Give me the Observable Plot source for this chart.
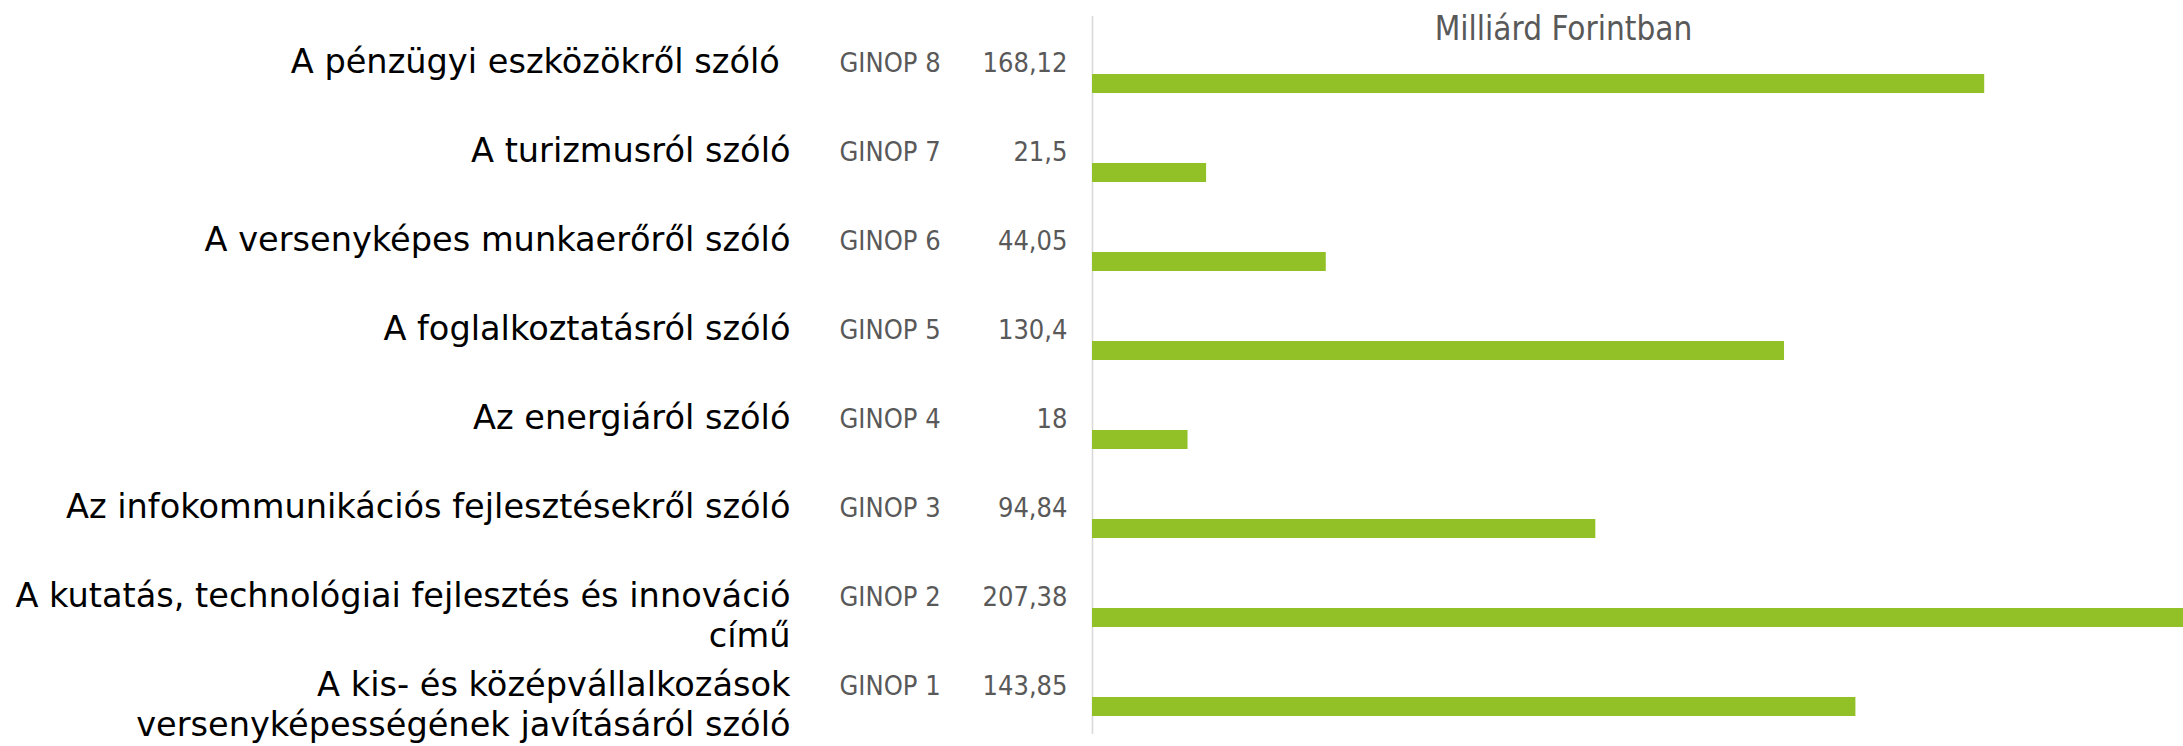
<!DOCTYPE html>
<html>
<head>
<meta charset="utf-8">
<script src="https://cdn.jsdelivr.net/npm/d3@7"></script>
<script src="https://cdn.jsdelivr.net/npm/@observablehq/plot@0.6"></script>
<style>
  html, body { margin: 0; padding: 0; background: #fff; overflow: hidden; }
  #chart svg { font-family: "DejaVu Sans", sans-serif; }
  #chart svg .cond text { font-stretch: condensed; }
</style>
</head>
<body>
<div id="chart"></div>
<script>
// Data (top to bottom as drawn)
const programs = ["GINOP 8", "GINOP 7", "GINOP 6", "GINOP 5", "GINOP 4", "GINOP 3", "GINOP 2", "GINOP 1"];
const titleLine1 = [
  "A pénzügyi eszközökről szóló ",
  "A turizmusról szóló",
  "A versenyképes munkaerőről szóló",
  "A foglalkoztatásról szóló",
  "Az energiáról szóló",
  "Az infokommunikációs fejlesztésekről szóló",
  "A kutatás, technológiai fejlesztés és innováció",
  "A kis- és középvállalkozások"
];
const titleLine2 = ["", "", "", "", "", "", "című", "versenyképességének javításáról szóló"];
const amounts = [168.12, 21.5, 44.05, 130.4, 18, 94.84, 207.38, 143.85];
const chartTitle = "Milliárd Forintban";

const rows = programs.map((p, i) => ({
  program: p,
  line1: titleLine1[i],
  line2: titleLine2[i],
  value: amounts[i],
  label: String(amounts[i]).replace(".", ",")
}));

const W = 2183, H = 746;
const barColor = "#92c127";
const grey = "#595959";

const chart = Plot.plot({
  width: W,
  height: H,
  marginLeft: 1092,
  marginRight: 0,
  marginTop: 16,
  marginBottom: 12,
  x: { domain: [0, 205.58], clamp: true, axis: null },
  y: { domain: programs, range: [71, 718], paddingInner: 0.7917, paddingOuter: 0, axis: null },
  marks: [
    Plot.ruleX([0], { stroke: "#d9d9d9", strokeWidth: 1.6 }),
    Plot.barX(rows, { x: "value", y: "program", fill: barColor }),
    Plot.text(rows, { x: 0, y: "program", text: "line1", textAnchor: "end", lineAnchor: "bottom", dx: -302, dy: -11, fontSize: 33.6, fill: "#000" }),
    Plot.text(rows, { x: 0, y: "program", text: "line2", textAnchor: "end", lineAnchor: "bottom", dx: -302, dy: 29, fontSize: 33.6, fill: "#000" }),
    Plot.text(rows, { x: 0, y: "program", text: "program", textAnchor: "start", lineAnchor: "bottom", dx: -253, dy: -12, fontSize: 27, fill: grey, className: "cond" }),
    Plot.text(rows, { x: 0, y: "program", text: "label", textAnchor: "end", lineAnchor: "bottom", dx: -25, dy: -12, fontSize: 27, fill: grey, className: "cond" }),
    Plot.text([chartTitle], { frameAnchor: "top-left", textAnchor: "middle", lineAnchor: "bottom", dx: 471, dy: 23, fontSize: 33, fill: grey, className: "cond" })
  ]
});
document.getElementById("chart").appendChild(chart);
</script>
</body>
</html>
